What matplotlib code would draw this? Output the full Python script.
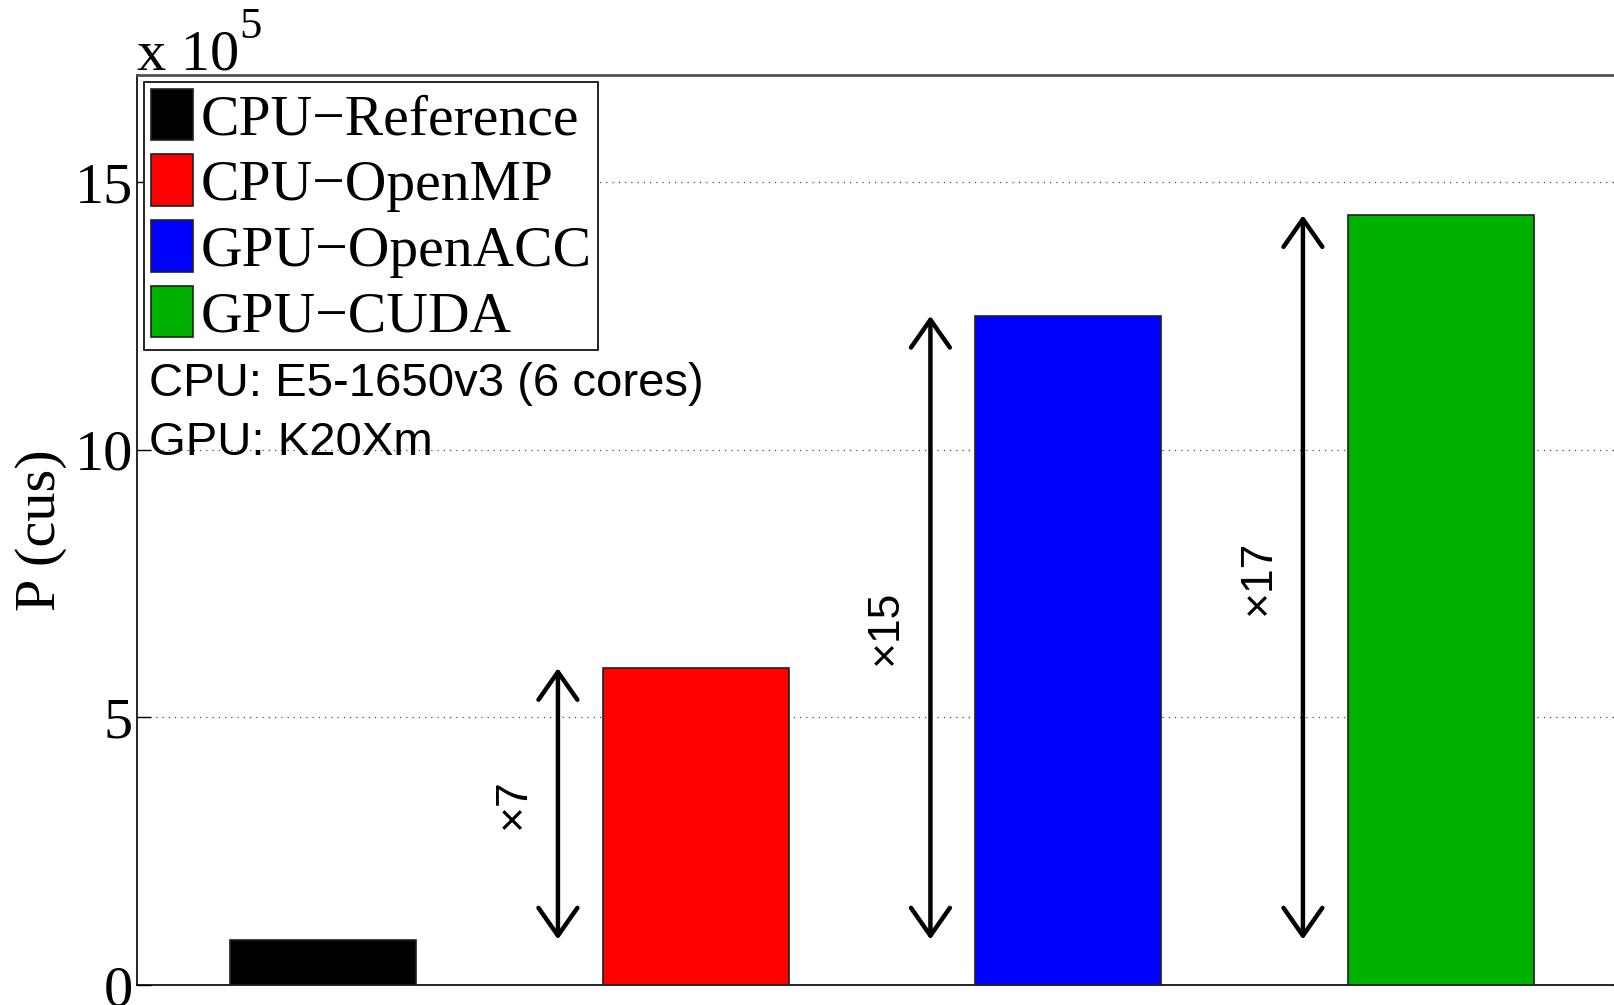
import numpy as np
import matplotlib
matplotlib.use("Agg")
import matplotlib.pyplot as plt

plt.rcParams['font.family'] = ['Liberation Serif', 'DejaVu Serif']

# data (values in units of 1e5)
labels = ['CPU\u2212Reference', 'CPU\u2212OpenMP', 'GPU\u2212OpenACC', 'GPU\u2212CUDA']
values = [0.85, 5.92, 12.5, 14.38]
colors = ['#000000', '#ff0000', '#0000ff', '#00b000']
speedups = ['\u00d77', '\u00d715', '\u00d717']

x = np.arange(1, len(values) + 1)
sans = ['Liberation Sans', 'DejaVu Sans']

fig = plt.figure(figsize=(16.15, 10.05), dpi=100)
ax = fig.add_axes([137/1615, 20/1005, 1490/1615, 910/1005])

for xi, v, c, lab in zip(x, values, colors, labels):
    ax.bar(xi, v, width=0.5, color=c, edgecolor='#202020', linewidth=1.2, label=lab, zorder=3)

# speedup arrows relative to the reference bar
base = values[0]
for xi, v, s in zip(x[1:], values[1:], speedups):
    ax.annotate('', xy=(xi - 0.37, v), xytext=(xi - 0.37, base),
                arrowprops=dict(arrowstyle='<->,head_length=1.0,head_width=0.7',
                                mutation_scale=20, lw=3.2, color='black',
                                shrinkA=0, shrinkB=0), zorder=4)
    ax.text(xi - 0.49, (v + base) / 2, s, rotation=90, ha='center', va='center',
            fontsize=32, family=sans)

ax.set_xlim(0.5, 4.5)
ax.set_ylim(0, 17)
ax.set_xticks([])
ax.set_yticks([0, 5, 10, 15])
ax.tick_params(axis='y', direction='in', length=10, width=1, labelsize=42, pad=3,
               right=True)
ax.yaxis.grid(True, linestyle=(0, (1, 4)), color='0.3', linewidth=0.9)
ax.set_axisbelow(True)
for side in ['left', 'bottom', 'right']:
    ax.spines[side].set_linewidth(1.2)
    ax.spines[side].set_color('black')
ax.spines['top'].set_linewidth(2)
ax.spines['top'].set_color('#505050')

leg = ax.legend(loc='upper left', fontsize=41.5, fancybox=False, edgecolor='black',
                framealpha=1, handlelength=0.74, handleheight=1.0, handletextpad=0.12,
                borderpad=0.12, labelspacing=0.14, borderaxespad=0.12)
leg.get_frame().set_linewidth(1.2)

ax.text(0.532, 11.23, 'CPU: E5-1650v3 (6 cores)', fontsize=34, va='center',
        family=sans, zorder=5)
ax.text(0.532, 10.13, 'GPU: K20Xm', fontsize=34, va='center',
        family=sans, zorder=5)

# MATLAB style exponent label
t = ax.annotate('x 10', xy=(0, 1), xycoords='axes fraction', xytext=(0, 5),
                textcoords='offset pixels', fontsize=42, ha='left', va='baseline')
ax.annotate('5', xy=(1, 0.68), xycoords=t, fontsize=32, ha='left', va='bottom')
fig.text(41/1615, 0.4726, 'P (cus)', rotation=90, fontsize=42, ha='center', va='center')

fig.savefig('out.png', dpi=100)
